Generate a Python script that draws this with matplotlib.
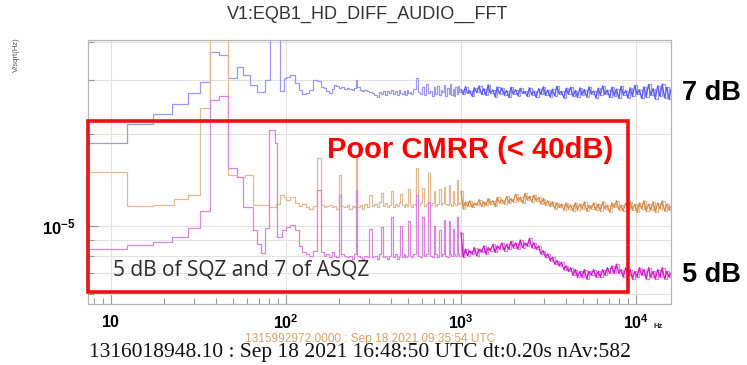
import matplotlib
matplotlib.use("Agg")
import matplotlib.pyplot as plt
from matplotlib.patches import Rectangle
from matplotlib.ticker import FixedLocator, NullFormatter, FixedFormatter

plt.rcParams['font.family'] = ['Liberation Sans', 'DejaVu Sans']
plt.rcParams['mathtext.fontset'] = 'custom'
plt.rcParams['mathtext.rm'] = 'Liberation Sans:bold'
plt.rcParams['mathtext.it'] = 'Liberation Sans:bold'
plt.rcParams['mathtext.bf'] = 'Liberation Sans:bold'

SCALE = 1e-5  # all amplitudes below are in units of 1e-5 V/sqrt(Hz)

# low frequency part (coarse bins), one list per trace
blue_low_f = [7, 12.3, 17.4, 22.3, 27.6, 32.3, 36.8, 41.4, 46.6, 52.5, 56.8, 62.2, 68.2, 75.8, 81, 92.5, 97]
blue_low_v = [1.87, 2.16, 2.33, 2.51, 2.73, 2.97, 3.72, 3.64, 3.06, 3.32, 3.13, 2.90, 2.75, 3.01, 8.0, 2.77, 3.05]

orange_low_f = [7, 12.3, 17.4, 23, 27.6, 32.3, 36.8, 46.6, 52.5, 58, 65, 80, 88, 92, 97]
orange_low_v = [1.50, 1.16, 1.17, 1.23, 1.26, 2.44, 8.0, 1.47, 1.45, 1.47, 1.17, 1.15, 1.18, 1.26, 1.24]

magenta_low_f = [7, 12.3, 17.4, 22.3, 27.6, 32.3, 36.8, 41.4, 46.6, 52.5, 56.8, 65, 68, 72, 75.8, 80, 86, 89, 95]
magenta_low_v = [0.84, 0.866, 0.886, 0.92, 0.985, 1.12, 2.59, 2.67, 1.55, 1.45, 1.15, 0.97, 0.87, 0.815, 0.985, 2.06, 1.87, 0.92, 0.97]

# 100 Hz - 1 kHz (50 Hz harmonics visible)
mid_freq = [100, 106, 112, 118, 124, 130, 136, 142, 150, 158,
            164, 170, 176, 182, 188, 194, 200, 206, 214, 222,
            230, 238, 244, 250, 256, 264, 272, 280, 290, 300,
            310, 320, 330, 340, 350, 360, 370, 380, 390, 400,
            410, 420, 430, 440, 450, 460, 470, 480, 490, 500,
            510, 520, 535, 550, 565, 580, 600, 615, 630, 650,
            665, 680, 700, 715, 730, 750, 765, 780, 800, 815,
            830, 850, 865, 880, 900, 915, 930, 950, 965, 980]
blue_mid = [3.08, 3.12, 2.94, 2.80, 2.70, 2.72, 2.80, 3.00, 2.98, 2.86,
            2.84, 2.76, 2.73, 2.82, 2.90, 2.88, 2.84, 2.86, 2.82, 2.84,
            2.82, 2.80, 2.84, 3.01, 2.85, 2.80, 2.78, 2.80, 2.76, 2.75,
            2.72, 2.68, 2.65, 2.74, 2.70, 2.76, 2.69, 2.78, 2.72, 2.80,
            2.71, 2.76, 2.68, 2.79, 2.73, 2.70, 2.77, 2.69, 2.80, 2.72,
            2.75, 2.70, 2.82, 3.06, 2.74, 2.70, 2.86, 2.68, 2.92, 2.72,
            2.78, 2.66, 2.85, 2.70, 2.88, 2.68, 2.80, 2.74, 2.90, 2.67,
            2.84, 2.70, 2.92, 2.68, 2.82, 2.66, 2.86, 2.71, 2.88, 2.74]
orange_mid = [1.22, 1.24, 1.19, 1.16, 1.18, 1.15, 1.14, 1.16, 1.67, 1.17,
              1.15, 1.16, 1.17, 1.15, 1.16, 1.14, 1.47, 1.16, 1.15, 1.17,
              1.14, 1.16, 1.15, 1.67, 1.15, 1.17, 1.14, 1.18, 1.15, 1.26,
              1.16, 1.18, 1.15, 1.20, 1.28, 1.16, 1.19, 1.15, 1.17, 1.30,
              1.15, 1.18, 1.16, 1.19, 1.27, 1.17, 1.15, 1.18, 1.16, 1.32,
              1.17, 1.15, 1.18, 1.55, 1.17, 1.19, 1.33, 1.16, 1.18, 1.49,
              1.17, 1.19, 1.30, 1.16, 1.18, 1.32, 1.17, 1.19, 1.34, 1.18,
              1.17, 1.36, 1.18, 1.16, 1.30, 1.19, 1.17, 1.41, 1.18, 1.19]
magenta_mid = [0.99, 1.01, 0.97, 0.86, 0.82, 0.81, 0.80, 0.83, 1.31, 0.82,
               0.80, 0.81, 0.79, 0.82, 0.80, 0.79, 1.26, 0.81, 0.80, 0.79,
               0.80, 0.78, 0.81, 1.31, 0.80, 0.79, 0.78, 0.80, 0.79, 0.98,
               0.79, 0.80, 0.78, 0.81, 0.99, 0.79, 0.80, 0.78, 0.80, 1.07,
               0.79, 0.81, 0.78, 0.80, 1.00, 0.79, 0.81, 0.79, 0.80, 1.04,
               0.80, 0.79, 0.81, 1.26, 0.80, 0.79, 1.07, 0.80, 0.81, 1.20,
               0.80, 0.79, 1.00, 0.81, 0.79, 0.97, 0.80, 0.81, 1.05, 0.80,
               0.79, 1.04, 0.81, 0.80, 0.98, 0.81, 0.80, 1.07, 0.81, 0.80]

# 1 kHz - 16 kHz (noise floor)
hf_freq = [1000, 1030, 1060, 1090, 1120, 1160, 1190, 1230, 1270, 1310,
           1350, 1390, 1430, 1470, 1520, 1570, 1610, 1660, 1710, 1770,
           1820, 1880, 1930, 1990, 2050, 2120, 2180, 2250, 2320, 2390,
           2460, 2540, 2610, 2690, 2780, 2860, 2950, 3040, 3130, 3230,
           3330, 3430, 3530, 3640, 3750, 3870, 3990, 4110, 4230, 4360,
           4500, 4630, 4780, 4920, 5070, 5230, 5390, 5550, 5720, 5900,
           6080, 6260, 6450, 6650, 6860, 7070, 7280, 7500, 7730, 7970,
           8210, 8460, 8720, 8990, 9260, 9550, 9840, 10140, 10450, 10770,
           11100, 11440, 11790, 12150, 12520, 12900, 13300, 13700, 14120, 14560,
           15000, 15460, 15800]
blue_hf = [2.80, 2.70, 2.86, 2.72, 2.78, 2.66, 2.84, 2.74, 2.88, 2.70,
           2.82, 2.68, 2.90, 2.73, 2.79, 2.65, 2.86, 2.71, 2.83, 2.69,
           2.78, 2.64, 2.85, 2.70, 2.80, 2.67, 2.83, 2.72, 2.76, 2.66,
           2.84, 2.69, 2.77, 2.64, 2.82, 2.70, 2.86, 2.68, 2.79, 2.65,
           2.81, 2.67, 2.87, 2.71, 2.76, 2.63, 2.83, 2.70, 2.85, 2.66,
           2.78, 2.64, 2.84, 2.69, 2.80, 2.65, 2.86, 2.71, 2.77, 2.63,
           2.83, 2.68, 2.88, 2.70, 2.79, 2.64, 2.85, 2.67, 2.81, 2.62,
           2.87, 2.69, 2.78, 2.63, 2.84, 2.66, 2.89, 2.70, 2.80, 2.62,
           2.86, 2.65, 2.91, 2.68, 2.82, 2.61, 2.88, 2.66, 2.92, 2.63,
           2.85, 2.60, 2.80]
orange_hf = [1.30, 1.14, 1.20, 1.16, 1.21, 1.15, 1.19, 1.17, 1.22, 1.16,
             1.20, 1.17, 1.23, 1.18, 1.21, 1.16, 1.24, 1.19, 1.22, 1.18,
             1.25, 1.19, 1.23, 1.20, 1.27, 1.21, 1.24, 1.19, 1.28, 1.22,
             1.25, 1.20, 1.26, 1.21, 1.24, 1.18, 1.23, 1.17, 1.21, 1.16,
             1.20, 1.14, 1.19, 1.15, 1.18, 1.13, 1.19, 1.14, 1.17, 1.12,
             1.19, 1.13, 1.18, 1.14, 1.20, 1.12, 1.17, 1.14, 1.19, 1.13,
             1.18, 1.12, 1.20, 1.14, 1.17, 1.11, 1.19, 1.15, 1.21, 1.13,
             1.17, 1.12, 1.19, 1.14, 1.20, 1.13, 1.18, 1.11, 1.19, 1.14,
             1.21, 1.12, 1.18, 1.13, 1.20, 1.11, 1.19, 1.14, 1.21, 1.12,
             1.18, 1.13, 1.16]
magenta_hf = [0.95, 0.79, 0.84, 0.80, 0.83, 0.81, 0.85, 0.80, 0.84, 0.82,
              0.86, 0.81, 0.85, 0.83, 0.87, 0.82, 0.86, 0.84, 0.88, 0.83,
              0.87, 0.84, 0.89, 0.85, 0.88, 0.84, 0.90, 0.85, 0.88, 0.86,
              0.91, 0.85, 0.88, 0.84, 0.86, 0.81, 0.83, 0.79, 0.81, 0.77,
              0.79, 0.75, 0.77, 0.74, 0.76, 0.72, 0.74, 0.71, 0.73, 0.69,
              0.72, 0.68, 0.71, 0.68, 0.72, 0.67, 0.71, 0.69, 0.72, 0.68,
              0.71, 0.68, 0.72, 0.69, 0.73, 0.70, 0.74, 0.70, 0.75, 0.70,
              0.72, 0.68, 0.73, 0.69, 0.72, 0.67, 0.71, 0.68, 0.73, 0.69,
              0.72, 0.67, 0.73, 0.68, 0.71, 0.67, 0.72, 0.68, 0.73, 0.67,
              0.71, 0.68, 0.70]

traces = [
    (blue_low_f, blue_low_v, blue_mid, blue_hf, '#9a9af2', '#5c5cf0'),
    (orange_low_f, orange_low_v, orange_mid, orange_hf, '#e3bb93', '#d28c4e'),
    (magenta_low_f, magenta_low_v, magenta_mid, magenta_hf, '#dc85dc', '#cc18cc'),
]

fig = plt.figure(figsize=(7.47, 3.65), dpi=100)
ax = fig.add_axes([88 / 747, 1 - 304 / 365, 583 / 747, 264 / 365])

for low_f, low_v, mid_v, hf_v, c_light, c_dark in traces:
    f = low_f + mid_freq + hf_freq
    v = [x * SCALE for x in low_v + mid_v + hf_v]
    ax.plot(f, v, drawstyle='steps-post', color=c_light, lw=0.9)
    ax.plot(hf_freq, [x * SCALE for x in hf_v], color=c_dark, lw=0.9)

ax.set_xscale('log')
ax.set_yscale('log')
ax.set_xlim(7.39, 15850)
ax.set_ylim(0.555e-5, 4.07e-5)

# ticks / grid
ax.xaxis.set_major_locator(FixedLocator([10, 100, 1000, 10000]))
ax.xaxis.set_major_formatter(FixedFormatter([r'$10$', r'$10^{2}$', r'$10^{3}$', r'$10^{4}$']))
xminor = [m * d for d in (1, 10, 100, 1000) for m in range(2, 10)]
ax.xaxis.set_minor_locator(FixedLocator(xminor))
ax.xaxis.set_minor_formatter(NullFormatter())
ax.yaxis.set_major_locator(FixedLocator([1e-5]))
ax.yaxis.set_major_formatter(FixedFormatter([r'$10^{-5}$']))
ax.yaxis.set_minor_locator(FixedLocator([6e-6, 7e-6, 8e-6, 9e-6, 2e-5, 3e-5, 4e-5]))
ax.yaxis.set_minor_formatter(NullFormatter())
ax.tick_params(which='both', direction='in', color='#999999', labelcolor='black')
ax.tick_params(which='major', length=7, width=0.8)
ax.tick_params(which='minor', length=4, width=0.8)
ax.tick_params(axis='x', which='both', labelsize=11.5, pad=7)
ax.tick_params(axis='y', which='both', labelsize=12, pad=9)
ax.xaxis.grid(True, which='major', color='#e2e2e2', lw=0.8)
ax.yaxis.grid(True, which='both', color='#e2e2e2', lw=0.8)
ax.set_axisbelow(True)
for s in ax.spines.values():
    s.set_color('#b5b5b5')
    s.set_linewidth(0.9)

# titles and captions
fig.text(368 / 747, 1 - 14 / 365, 'V1:EQB1_HD_DIFF_AUDIO__FFT', ha='center', va='center',
         fontsize=13, family=['Liberation Sans Narrow', 'Liberation Sans'], color='#333333')
fig.text(16 / 747, 1 - 55 / 365, 'V/sqrt(Hz)', rotation=90, ha='center', va='center',
         fontsize=5.5, color='#555555')
fig.text(654 / 747, 1 - 327 / 365, 'Hz', ha='left', va='center', fontsize=5.5,
         fontweight='bold', color='#222222')
fig.text(370 / 747, 1 - 339 / 365, '1315992972.0000 : Sep 18 2021 09:35:54 UTC', ha='center',
         va='center', fontsize=8.6, color='#d9a26a')
fig.text(360 / 747, 1 - 353 / 365, '1316018948.10 : Sep 18 2021 16:48:50 UTC dt:0.20s nAv:582',
         ha='center', va='center', fontsize=15.5, family=['Liberation Serif', 'DejaVu Serif'],
         color='#111111')

# annotations
fig.add_artist(Rectangle((88 / 747, 1 - 292 / 365), 540 / 747, 171 / 365, transform=fig.transFigure,
                         fill=False, edgecolor='#ee1111', lw=2.6))
fig.text(470 / 747, 1 - 150 / 365, 'Poor CMRR (< 40dB)', ha='center', va='center',
         fontsize=21, fontweight='bold', color='#ff0000')
fig.text(113 / 747, 1 - 270 / 365, '5 dB of SQZ and 7 of ASQZ', ha='left', va='center',
         fontsize=15, family=['Open Sans', 'DejaVu Sans'], color='#2a2a2a')
fig.text(711 / 747, 1 - 93 / 365, '7 dB', ha='center', va='center', fontsize=19.5,
         fontweight='bold', color='black')
fig.text(711 / 747, 1 - 275 / 365, '5 dB', ha='center', va='center', fontsize=19.5,
         fontweight='bold', color='black')

fig.savefig('out.png', dpi=100)
